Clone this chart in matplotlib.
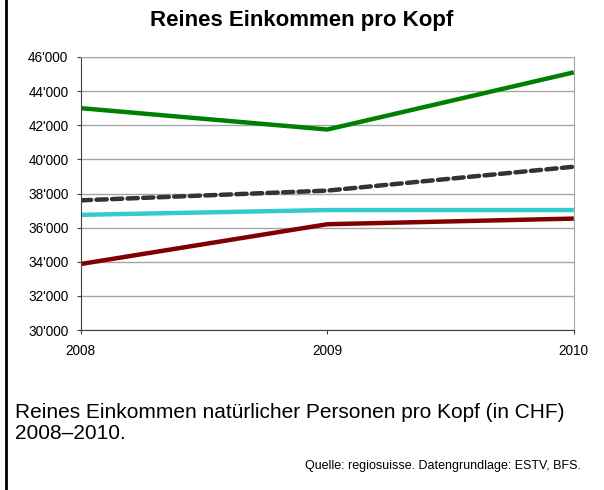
import matplotlib.pyplot as plt
from matplotlib.lines import Line2D
from matplotlib.ticker import FuncFormatter

years = [2008, 2009, 2010]
green = [43000, 41750, 45100]
dashed = [37600, 38170, 39570]
cyan = [36750, 37030, 37030]
red = [33870, 36200, 36530]

plt.rcParams['font.family'] = ['Liberation Sans', 'DejaVu Sans']

fig = plt.figure(figsize=(6.04, 4.90), dpi=100)
ax = fig.add_axes([0.134, 0.3265, 0.816, 0.5572])

ax.plot(years, green, color='#008000', lw=3.2, solid_capstyle='butt')
ax.plot(years, dashed, color='#333333', lw=3.2, ls=(0, (2.3, 1.2)), dash_capstyle='round')
ax.plot(years, cyan, color='#33CCCC', lw=3.2, solid_capstyle='butt')
ax.plot(years, red, color='#800000', lw=3.2, solid_capstyle='butt')

ax.set_xlim(2008, 2010)
ax.set_ylim(30000, 46000)
ax.set_xticks(years)
ax.set_yticks(range(30000, 46001, 2000))
ax.yaxis.set_major_formatter(FuncFormatter(lambda v, p: f"{int(v):,}".replace(',', "'")))
ax.grid(axis='y', color='#a6a6a6', lw=1)
ax.set_axisbelow(True)
for s in ['top', 'right']:
    ax.spines[s].set_color('#a6a6a6')
for s in ['left', 'bottom']:
    ax.spines[s].set_color('#404040')
ax.tick_params(axis='both', labelsize=9.8, length=3, color='#404040', width=0.8, pad=6)
ax.tick_params(axis='x', pad=7)

fig.text(0.5, 0.959, 'Reines Einkommen pro Kopf', ha='center', va='center',
         fontsize=16, fontweight='bold')
fig.text(0.025, 0.137, 'Reines Einkommen natürlicher Personen pro Kopf (in CHF)\n2008–2010.',
         ha='left', va='center', fontsize=15, linespacing=1.15)
fig.text(0.962, 0.048, 'Quelle: regiosuisse. Datengrundlage: ESTV, BFS.',
         ha='right', va='center', fontsize=9)

fig.add_artist(Line2D([0.01, 0.01], [0, 1], transform=fig.transFigure, color='black', lw=2))

fig.savefig('out.png', dpi=100)
